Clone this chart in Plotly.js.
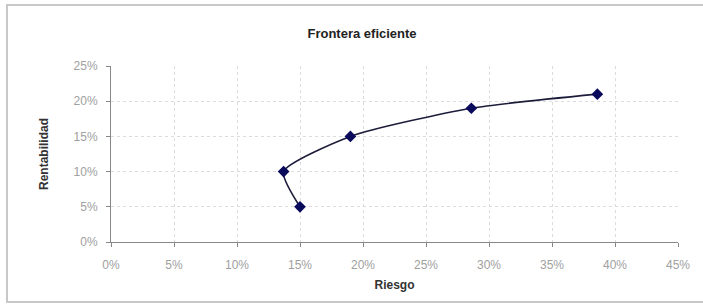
<!DOCTYPE html>
<html>
<head>
<meta charset="utf-8">
<script src="https://cdn.plot.ly/plotly-3.0.1.min.js"></script>
<style>
html,body{margin:0;padding:0;background:#fff;}
#chart{width:703px;height:305px;}
</style>
</head>
<body>
<div id="chart"></div>
<script>
const riesgo = [0.150, 0.137, 0.190, 0.286, 0.386];
const rentabilidad = [0.05, 0.10, 0.15, 0.19, 0.21];
const xTicks = [0, 0.05, 0.10, 0.15, 0.20, 0.25, 0.30, 0.35, 0.40, 0.45];
const xTickLabels = ['0%','5%','10%','15%','20%','25%','30%','35%','40%','45%'];
const yTicks = [0, 0.05, 0.10, 0.15, 0.20, 0.25];
const yTickLabels = ['0%','5%','10%','15%','20%','25%'];

const trace = {
  x: riesgo, y: rentabilidad,
  mode: 'lines+markers',
  type: 'scatter',
  line: {shape: 'spline', smoothing: 0.6, color: '#1c1c3a', width: 1.6, dash: 'solid'},
  marker: {symbol: 'diamond', size: 9, color: '#0a0a5c'},
  hoverinfo: 'skip'
};

const font = {family: 'Liberation Sans, Arial, sans-serif', color: '#333'};

const layout = {
  width: 703, height: 305,
  margin: {l: 111, r: 25, t: 66, b: 63},
  paper_bgcolor: '#fff', plot_bgcolor: '#fff',
  showlegend: false,
  font: font,
  title: {text: 'Frontera eficiente', font: {family: font.family, size: 13, color: '#222', weight: 'bold'}, x: 0.515, xanchor: 'center', y: 0.89, yanchor: 'middle'},
  xaxis: {
    range: [0, 0.45], tickvals: xTicks, ticktext: xTickLabels,
    showgrid: true, gridcolor: '#dcdcdc', griddash: 'dot', gridwidth: 1,
    showline: true, linecolor: '#888', linewidth: 1,
    ticks: 'outside', ticklen: 4, tickcolor: '#888',
    ticklabelstandoff: 8,
    tickfont: {size: 12, color: '#a0a0a0', family: font.family},
    zeroline: false, fixedrange: true,
    title: {text: 'Riesgo', font: {size: 12, color: '#333', family: font.family, weight: 'bold'}, standoff: 9}
  },
  yaxis: {
    range: [0, 0.25], tickvals: yTicks, ticktext: yTickLabels,
    showgrid: true, gridcolor: '#dcdcdc', griddash: 'dot', gridwidth: 1,
    showline: true, linecolor: '#888', linewidth: 1,
    ticks: 'outside', ticklen: 4, tickcolor: '#888',
    ticklabelstandoff: 6,
    tickfont: {size: 12, color: '#a0a0a0', family: font.family},
    zeroline: false, fixedrange: true,
    title: {text: 'Rentabilidad', font: {size: 12, color: '#333', family: font.family, weight: 'bold'}, standoff: 22}
  },
  shapes: [{
    type: 'rect', xref: 'paper', yref: 'paper',
    x0: -0.1834, x1: 1.08, y0: -0.341, y1: 1.3466,
    line: {color: '#c8c8c8', width: 2}, fillcolor: 'rgba(0,0,0,0)', layer: 'below'
  }]
};

Plotly.newPlot('chart', [trace], layout, {displayModeBar: false, staticPlot: true});
</script>
</body>
</html>
